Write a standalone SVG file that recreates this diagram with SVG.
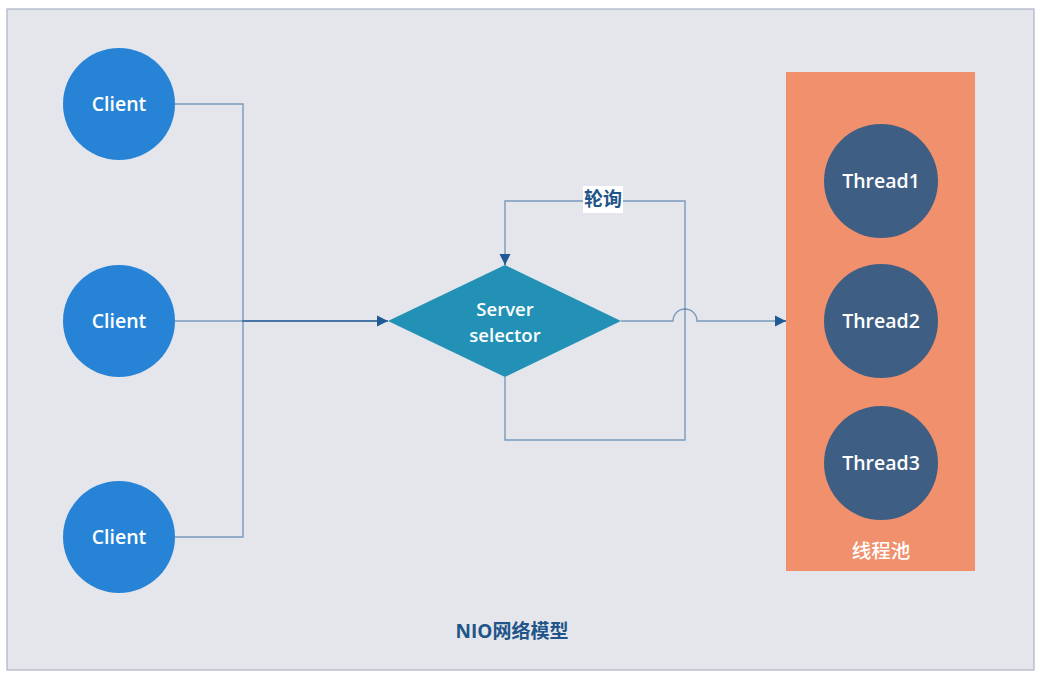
<svg xmlns="http://www.w3.org/2000/svg" width="1046" height="680" viewBox="0 0 1046 680">
<style>
.lbl{font-family:"Open Sans","Noto Sans","Noto Sans CJK SC",sans-serif;font-size:19.5px;font-weight:600;fill:#ffffff;text-anchor:middle;dominant-baseline:central}
.cn{font-family:"Open Sans","Noto Sans CJK SC",sans-serif;font-weight:bold;text-anchor:middle;dominant-baseline:central}
.conn{fill:none;stroke:#1f5a94;stroke-opacity:0.54;stroke-width:1.4}
.client{fill:#2683d6}
.thread{fill:#3e5e84}
</style>
<defs>
<marker id="arr" viewBox="0 0 10 10" refX="10" refY="5" markerWidth="11" markerHeight="12" markerUnits="userSpaceOnUse" orient="auto">
<path d="M0,0 L10,5 L0,10 z" fill="#1f5a94"/>
</marker>
</defs>
<g id="frame">
<rect x="7" y="9" width="1027" height="661" fill="#e4e6ec" stroke="#aab4c6" stroke-width="1.2"/>
<text class="cn" x="512" y="631" font-size="19" fill="#1f5588">NIO网络模型</text>
</g>
<g id="pool">
<rect x="786" y="72" width="189" height="499" fill="#f0906c"/>
<text class="lbl" x="881" y="549" style="font-family:'Noto Sans CJK SC',sans-serif;font-weight:500">线程池</text>
</g>
<g id="connectors">
<path class="conn" d="M175,104 H243 V321 H378"/>
<path class="conn" d="M175,321 H378"/>
<path class="conn" d="M175,537 H243 V321 H378"/>
<path d="M377,321 H388" stroke="#1f5a94" stroke-width="1.4" marker-end="url(#arr)"/>
<path class="conn" d="M505,377 V440 H685 V201 H505 V255"/>
<path d="M505,254 V265" stroke="#1f5a94" stroke-width="1.4" marker-end="url(#arr)"/>
<path class="conn" d="M621,321 H673 A12,12 0 0 1 697,321 H776"/>
<path d="M775,321 H786" stroke="#1f5a94" stroke-width="1.4" marker-end="url(#arr)"/>
<rect x="583" y="186" width="40" height="27" fill="#ffffff"/>
<text class="cn" x="603" y="199" font-size="19" fill="#1f5588">轮询</text>
</g>
<g id="client1"><circle class="client" cx="119" cy="104" r="56"/><text class="lbl" x="119" y="103.5">Client</text></g>
<g id="client2"><circle class="client" cx="119" cy="321" r="56"/><text class="lbl" x="119" y="320.5">Client</text></g>
<g id="client3"><circle class="client" cx="119" cy="537" r="56"/><text class="lbl" x="119" y="536.5">Client</text></g>
<g id="selector">
<polygon points="388,321 505,265 621,321 505,377" fill="#2291b5"/>
<text class="lbl" style="font-size:18.5px"><tspan x="505" y="307.5">Server</tspan><tspan x="505" y="333.5">selector</tspan></text>
</g>
<g id="thread1"><circle class="thread" cx="881" cy="181" r="57"/><text class="lbl" x="881" y="180.5">Thread1</text></g>
<g id="thread2"><circle class="thread" cx="881" cy="321" r="57"/><text class="lbl" x="881" y="320.5">Thread2</text></g>
<g id="thread3"><circle class="thread" cx="881" cy="463" r="57"/><text class="lbl" x="881" y="462.5">Thread3</text></g>
</svg>
